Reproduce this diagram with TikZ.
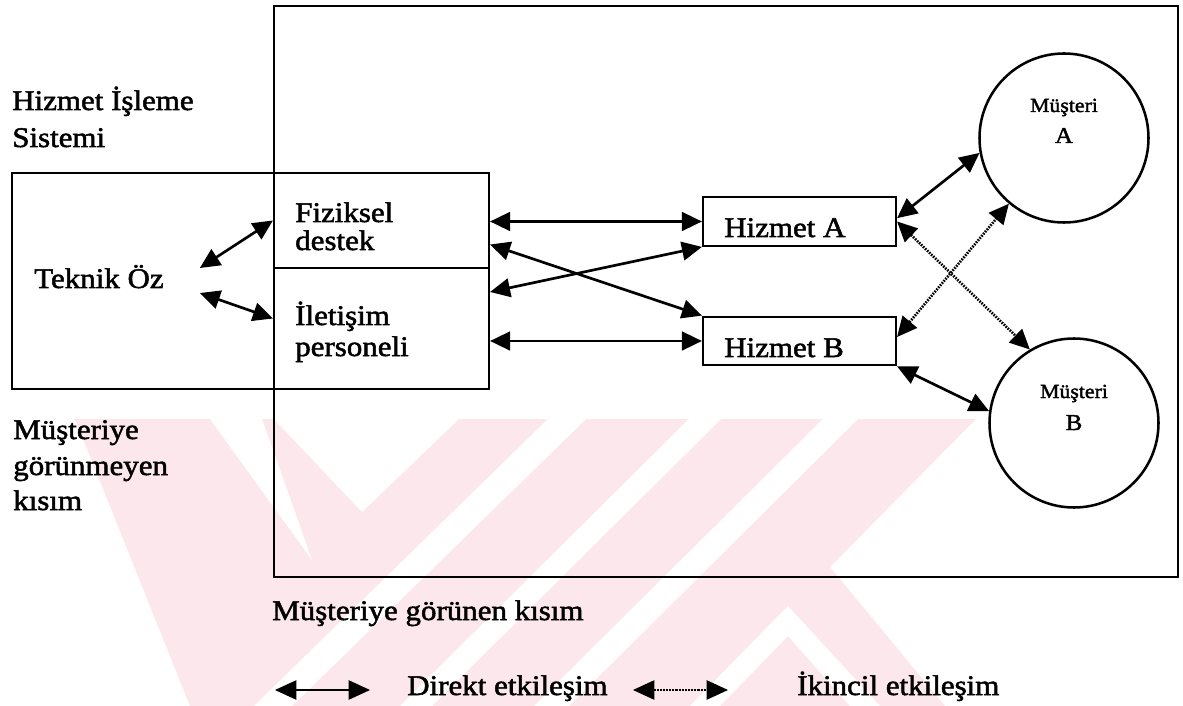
\documentclass[tikz,border=0pt]{standalone}
\usepackage{fontspec}
\setmainfont{Liberation Serif}[FakeStretch=1.09,FakeBold=1.8]
\usetikzlibrary{arrows.meta,calc}
\definecolor{wmpink}{RGB}{252,232,236}
\newcommand{\bigtxt}{\fontsize{21.3pt}{25pt}\selectfont}
\newcommand{\midtxt}{\fontsize{17pt}{20pt}\selectfont}
\newcommand{\smalltxt}{\fontsize{15pt}{18pt}\selectfont}
\tikzset{
  lbl/.style={anchor=base west, inner sep=0pt, font=\bigtxt},
  clbl/.style={anchor=base, inner sep=0pt},
  boxline/.style={draw, line width=1.6pt},
  cell/.style={boxline, minimum width=161.25pt, inner sep=0pt},
  svc/.style={boxline, minimum width=144.75pt, minimum height=36.5pt, inner sep=0pt},
  cust/.style={circle, draw, line width=1.9pt, minimum size=126.75pt, inner sep=0pt},
  direct/.style={line width=2pt, {Triangle[length=15pt,width=14pt]}-{Triangle[length=15pt,width=14pt]}},
  second/.style={line width=2pt, dash pattern=on 1.2pt off 0.9pt,
    {Triangle[length=15pt,width=14pt]}-{Triangle[length=15pt,width=14pt]}},
  keydirect/.style={line width=1pt, {Triangle[length=16pt,width=14.5pt]}-{Triangle[length=16pt,width=14.5pt]}},
  keysecond/.style={line width=1pt, dash pattern=on 0.6pt off 0.5pt,
    {Triangle[length=16pt,width=14.5pt]}-{Triangle[length=16pt,width=14.5pt]}},
}
\begin{document}
\begin{tikzpicture}[x=0.75pt,y=-0.75pt]
\useasboundingbox (0,0) rectangle (1183,706);

% faint background stamp
\begin{scope}
  \clip (0,419) rectangle (1183,706);
  \fill[wmpink] (75,419) -- (976,419) -- (830,567) -- (945,706) -- (190,706) -- cycle;
  \fill[white] (210,419) -- (262,419) -- (312,560) -- cycle;
  \fill[white] (274,419) -- (459,419) -- (362,512) -- cycle;
  \fill[white] (548,419) -- (586,419) -- (292,706) -- (254,706) -- cycle;
  \fill[white] (689,419) -- (721,419) -- (432,706) -- (400,706) -- cycle;
  \fill[white] (823,419) -- (858,419) -- (569,706) -- (534,706) -- cycle;
  \fill[white] (788,606) -- (880,706) -- (850,706) -- (788,636) -- (720,706) -- (690,706) -- cycle;
\end{scope}

% outer frames
\node[boxline, minimum width=678pt, minimum height=428.25pt, inner sep=0pt] (vis) at (726,291.5) {};
\node[boxline, minimum width=357.75pt, minimum height=162pt, inner sep=0pt] (sys) at (250.5,281) {};

% contact cells
\node[cell, minimum height=71.25pt] (fiz) at (381.5,220.5) {};
\node[cell, minimum height=90.75pt] (ilet) at (381.5,328.5) {};

% services
\node[svc] (hizA) at (799.5,221.5) {};
\node[svc] (hizB) at (799.5,341) {};

% customers
\node[cust] (musA) at (1064,138) {};
\node[cust] (musB) at (1074,423) {};

% texts
\node[lbl] (sysT1) at (12,110) {Hizmet İşleme};
\node[lbl] (sysT2) at (12,147) {Sistemi};
\node[lbl] (tek) at (34,288) {Teknik Öz};
\node[lbl] (fizT1) at (295,222) {Fiziksel};
\node[lbl] (fizT2) at (295,250) {destek};
\node[lbl] (iletT1) at (295,325) {İletişim};
\node[lbl] (iletT2) at (295,356) {personeli};
\node[lbl] (hizAT) at (724,237) {Hizmet A};
\node[lbl] (hizBT) at (724,357) {Hizmet B};
\node[lbl] (invT1) at (13,439) {Müşteriye};
\node[lbl] (invT2) at (13,475) {görünmeyen};
\node[lbl] (invT3) at (13,510) {kısım};
\node[lbl] (visT) at (272,620) {Müşteriye görünen kısım};
\node[clbl, font=\smalltxt] (musAT1) at (1064,112) {Müşteri};
\node[clbl, font=\midtxt] (musAT2) at (1064,143) {A};
\node[clbl, font=\smalltxt] (musBT1) at (1074,398) {Müşteri};
\node[clbl, font=\midtxt] (musBT2) at (1074,430) {B};

% direct interactions
\draw[direct] ($(tek.base east)+(36,-20)$) -- (fiz.west);
\draw[direct] ($(tek.base east)+(36,5)$) -- ([yshift=7.5pt]ilet.west);
\draw[direct] (hizA.west -| fiz.east) -- (hizA.west);
\draw[direct] ([yshift=-18pt]fiz.east) -- (hizB.north west);
\draw[direct] ([yshift=27.4pt]ilet.east) -- (hizA.south west);
\draw[direct] (hizB.west -| ilet.east) -- (hizB.west);
\draw[direct] ([yshift=2.5pt]hizA.east) -- (musA.190);
\draw[direct] (hizB.south east) -- (musB.172);

% secondary interactions
\draw[second] (hizA.east) -- (musB.121);
\draw[second] ([yshift=3pt]hizB.east) -- (musA.230);

% key
\node[lbl] (keyD) at (407,695) {Direkt etkileşim};
\node[lbl] (keyS) at (797,695) {İkincil etkileşim};
\coordinate (kd1) at (275,690);
\coordinate (kd2) at (370,690);
\coordinate (ks1) at (633,690);
\coordinate (ks2) at (728,690);
\draw[keydirect] (kd1) -- (kd2);
\draw[keysecond] (ks1) -- (ks2);
\end{tikzpicture}
\end{document}
